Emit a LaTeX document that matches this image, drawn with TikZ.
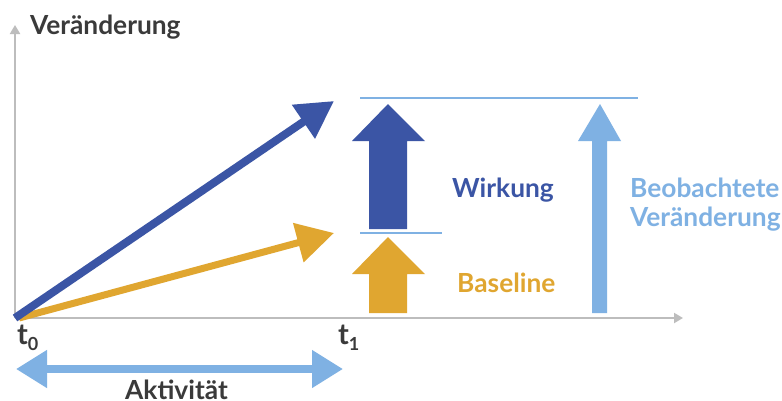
\documentclass[tikz,border=0pt]{standalone}
\usepackage{fontspec}
\setmainfont{Lato}
\usetikzlibrary{arrows.meta}
\definecolor{cblue}{HTML}{3B55A5}
\definecolor{cgold}{HTML}{E0A630}
\definecolor{clight}{HTML}{7FB1E3}
\definecolor{caxis}{HTML}{BDBDBD}
\definecolor{ctext}{HTML}{3A3A3A}
\tikzset{
  lbl/.style={inner sep=0pt, anchor=base west, font=\fontsize{26.3}{29}\selectfont\bfseries},
  tlbl/.style={inner sep=0pt, anchor=base west, text=ctext, font=\fontsize{29}{29}\selectfont\bfseries},
  axisline/.style={draw=caxis, line width=2pt, -{Triangle[length=9pt,width=10pt]}},
}
\begin{document}
\begin{tikzpicture}[x=1pt,y=-1pt]
\clip (0,0) rectangle (782,400);
\fill[white] (0,0) rectangle (782,400);
% axes
\coordinate (o) at (15,318);
\coordinate (ytop) at (15,25);
\coordinate (xend) at (683,318);
\draw[axisline] (o) -- (ytop);
\draw[axisline] (o) -- (xend);
% title
\node[lbl, text=ctext] (title) at (30,34) {Veränderung};
% reference lines
\coordinate (l1a) at (360,98); \coordinate (l1b) at (638,98);
\coordinate (l2a) at (360,233); \coordinate (l2b) at (442,233);
\draw[clight, line width=1.5pt] (l1a) -- (l1b);
\draw[clight, line width=1.5pt] (l2a) -- (l2b);
% slope arrows
\coordinate (btip) at (334,101);
\coordinate (gtip) at (334,233);
\coordinate (o2) at (19,318);
\draw[cgold, line width=7pt, -{Triangle[length=37pt,width=39pt]}] (o2) -- (gtip);
\draw[cblue, line width=8pt, -{Triangle[length=37pt,width=39pt]}] (o) -- (btip);
% block arrows
\fill[cblue] (369,229) -- (369,141) -- (352,141) -- (388,104) -- (425,141) -- (407,141) -- (407,229) -- cycle;
\fill[cgold] (369,313) -- (369,274) -- (352,274) -- (388,237) -- (425,274) -- (407,274) -- (407,313) -- cycle;
\fill[clight] (592,313) -- (592,141) -- (578,141) -- (600,104) -- (621,141) -- (607,141) -- (607,313) -- cycle;
% labels
\node[lbl, text=cblue] (wirk) at (452,197) {Wirkung};
\node[lbl, text=cgold] (base) at (457,292) {Baseline};
\node[lbl, text=clight] (beob1) at (630,197) {Beobachtete};
\node[lbl, text=clight] (beob2) at (630,226) {Veränderung};
% time labels
\node[tlbl] (t0) at (17,344) {t\raisebox{-6pt}{\fontsize{18}{18}\selectfont 0}};
\node[tlbl] (t1) at (338,344) {t\raisebox{-6pt}{\fontsize{18}{18}\selectfont 1}};
% activity arrow
\coordinate (aL) at (16,369);
\coordinate (aR) at (343,369);
\draw[clight, line width=7.5pt, {Triangle[length=31pt,width=36pt]}-{Triangle[length=31pt,width=36pt]}] (aL) -- (aR);
\node[lbl, text=ctext] (akt) at (125,399) {Aktivität};
\end{tikzpicture}
\end{document}
